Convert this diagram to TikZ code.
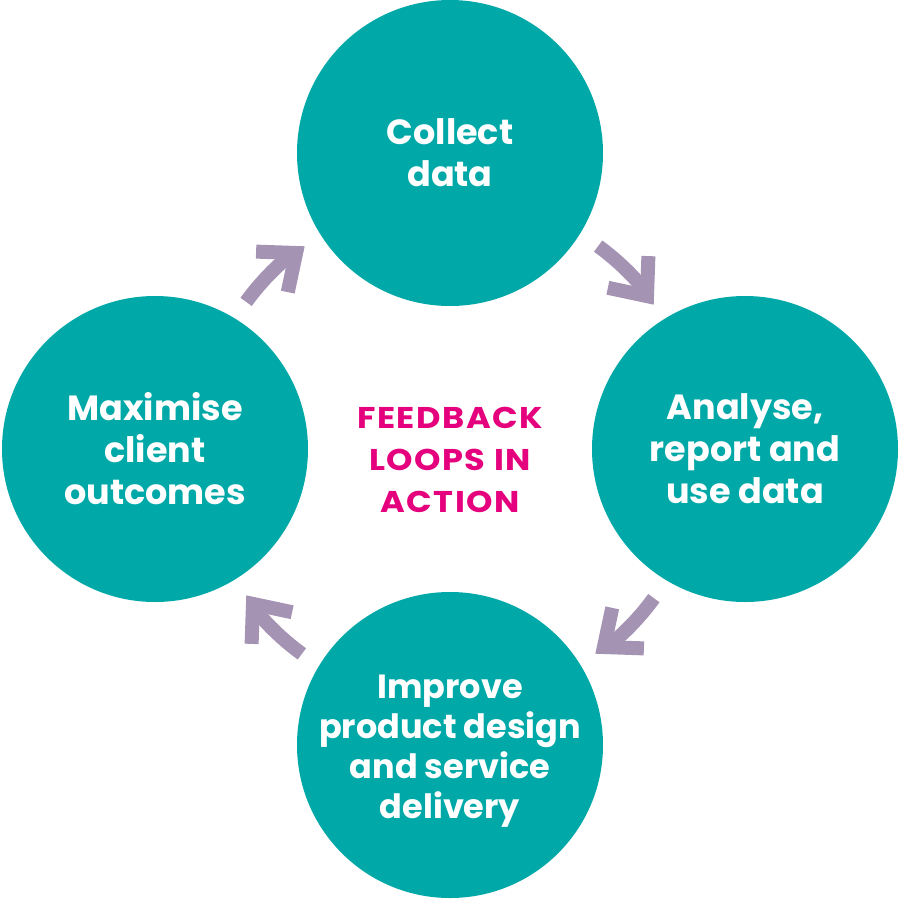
\documentclass[tikz,border=0pt]{standalone}
\usepackage{fontspec}
\setmainfont{Poppins}
\definecolor{tealc}{HTML}{00A9A8}
\definecolor{purp}{HTML}{A593B3}
\definecolor{mag}{HTML}{E5007D}
\begin{document}
\begin{tikzpicture}[x=1pt,y=-1pt,
  stage/.style={circle, fill=tealc, minimum size=306pt, inner sep=0pt},
  stxt/.style={text=white, align=center, inner sep=0pt, font=\fontsize{35}{42}\selectfont\bfseries},
  stxtb/.style={stxt, yshift=-6pt, font=\fontsize{33.5}{40}\selectfont\bfseries},
  loop/.style={draw=purp, line width=14pt, line cap=butt, line join=miter, miter limit=10},
  title/.style={text=mag, align=center, font=\fontsize{30}{42}\selectfont\bfseries\addfontfeature{FakeStretch=1.12,LetterSpace=5}}]
\useasboundingbox (0,0) rectangle (900,900);
\fill[white] (0,0) rectangle (900,900);
\node[stage, label={[stxt]center:{Collect\\data}}] (collect) at (450,153) {};
\node[stage, label={[stxt]center:{Analyse,\\report and\\use data}}] (analyse) at (745,449) {};
\node[stage, label={[stxtb]center:{Improve\\product design\\and service\\delivery}}] (improve) at (450,745) {};
\node[stage, label={[stxt]center:{Maximise\\client\\outcomes}}] (maximise) at (155,449) {};
\node[title] (center) at (450,460) {FEEDBACK\\LOOPS IN\\ACTION};
\coordinate (C) at (450,450);
\foreach \n/\r in {a/0,b/90,c/180,d/270}{
  \path (C) ++(216+\r:252) coordinate (s\n);
  \path (C) ++(232+\r:250) coordinate (t\n);
  \path (t\n) ++(232+\r-90+40:40) coordinate (l\n);
  \path (t\n) ++(232+\r-90-40:40) coordinate (r\n);
  \draw[loop] (s\n) arc[start angle=216+\r, end angle=232+\r, radius=252];
  \draw[loop] (l\n) -- (t\n) -- (r\n);
}
\end{tikzpicture}
\end{document}
